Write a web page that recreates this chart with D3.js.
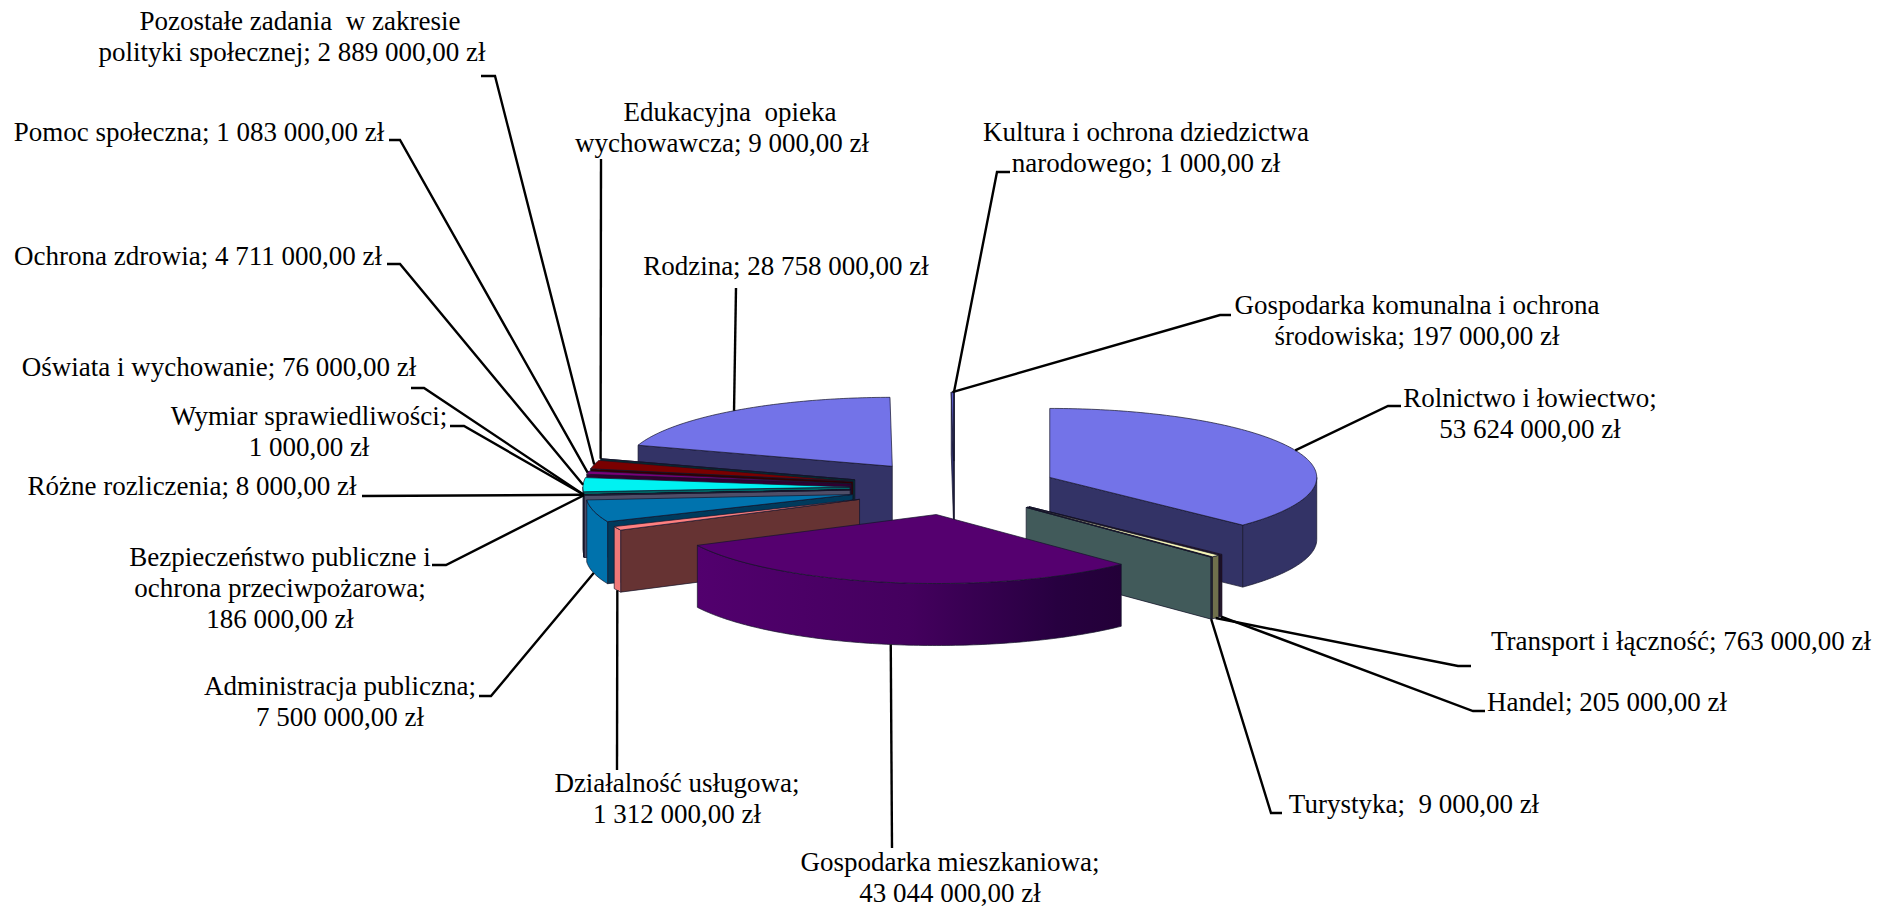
<!DOCTYPE html>
<html>
<head>
<meta charset="utf-8">
<style>html,body{margin:0;background:#fff}svg{display:block}</style>
<script src="https://cdnjs.cloudflare.com/ajax/libs/d3/7.8.5/d3.min.js"></script>
</head>
<body>
<script>
// ---- data, in slice order clockwise from twelve o'clock ----
const categories = ["Rolnictwo i łowiectwo","Handel","Transport i łączność","Turystyka","Gospodarka mieszkaniowa","Działalność usługowa","Administracja publiczna","Bezpieczeństwo publiczne i ochrona przeciwpożarowa","Różne rozliczenia","Wymiar sprawiedliwości","Oświata i wychowanie","Ochrona zdrowia","Pomoc społeczna","Pozostałe zadania w zakresie polityki społecznej","Edukacyjna opieka wychowawcza","Rodzina","Gospodarka komunalna i ochrona środowiska","Kultura i ochrona dziedzictwa narodowego"];
const values = [53624000,205000,763000,9000,43044000,1312000,7500000,186000,8000,1000,76000,4711000,1083000,2889000,9000,28758000,197000,1000];
const labelLines = [
 ["Rolnictwo i łowiectwo;","53 624 000,00 zł"],
 ["Handel; 205 000,00 zł"],
 ["Transport i łączność; 763 000,00 zł"],
 ["Turystyka;  9 000,00 zł"],
 ["Gospodarka mieszkaniowa;","43 044 000,00 zł"],
 ["Działalność usługowa;","1 312 000,00 zł"],
 ["Administracja publiczna;","7 500 000,00 zł"],
 ["Bezpieczeństwo publiczne i","ochrona przeciwpożarowa;","186 000,00 zł"],
 ["Różne rozliczenia; 8 000,00 zł"],
 ["Wymiar sprawiedliwości;","1 000,00 zł"],
 ["Oświata i wychowanie; 76 000,00 zł"],
 ["Ochrona zdrowia; 4 711 000,00 zł"],
 ["Pomoc społeczna; 1 083 000,00 zł"],
 ["Pozostałe zadania  w zakresie","polityki społecznej; 2 889 000,00 zł"],
 ["Edukacyjna  opieka","wychowawcza; 9 000,00 zł"],
 ["Rodzina; 28 758 000,00 zł"],
 ["Gospodarka komunalna i ochrona","środowiska; 197 000,00 zł"],
 ["Kultura i ochrona dziedzictwa","narodowego; 1 000,00 zł"]
];
// ---- styles ----
const topColors  = ["#7373E8","#4D1A33","#F5F5B8","#CCFFFF","#55006F","#FF8080","#0073AE","#6A6A88","#1A1A60","#803080","#808040","#00F2F2","#7A007A","#7A0000","#006666","#7373E8","#5A5AC8","#6060C0"];
const wallColors = ["#333366","#260D1F","#70704C","#415A5A","#4A0066","#F07878","#0072AC","#3C3C52","#000040","#400040","#404020","#006666","#300030","#300000","#003333","#333366","#303070","#303070"];
const sideColors = ["#333366","#260D1F","#70704C","#415A5A","#4A0066","#663333","#003A5C","#4E4E68","#000040","#400040","#404020","#006666","#300030","#300000","#003333","#333366","#303070","#303070"];
// ---- layout ----
const W = 1885, H = 908;
const centre = [954, 488], radii = [267, 69], explode = 0.39, depth = 62;
const fontSize = 27, lineGap = 31;
// label centre x, first line centre y
const labelAt = [[1530,398],[1607,702],[1681,641],[1414,804],[950,862],[677,783],[340,686],[280,557],[192,486],[309,416],[219,367],[198,256],[199,132],[292,21],[722,112],[786,266],[1417,305],[1146,132]];
// first lines that sit off the block's centre
const firstLineShift = {13:8, 14:8};
// leader: free end, elbow (the third point comes from the slice itself)
const leaderEnd = [[[1401,406],[1388,406]],[[1485,711],[1473,711]],[[1471,666],[1458,666]],[[1282,813],[1271,813]],[[892,848]],[[617,770]],[[479,696],[491,696]],[[432,565],[446,565]],[[362,496]],[[450,426],[464,426]],[[411,388],[424,388]],[[387,264],[400,264]],[[389,140],[400,140]],[[481,76],[495,76]],[[601,159]],[[736,288]],[[1231,315],[1220,315]],[[1010,172],[997,172]]];

const x = d3.scaleLinear().domain([-1,1]).range([centre[0]-radii[0], centre[0]+radii[0]]);
const y = d3.scaleLinear().domain([-1,1]).range([centre[1]-radii[1], centre[1]+radii[1]]);
const pie = d3.pie().sort(null).value(d=>d);
const slices = pie(values).map((s,i)=>{
  const mid = (s.startAngle+s.endAngle)/2;
  return {i, a0:s.startAngle, a1:s.endAngle, mid, ox:explode*Math.sin(mid), oy:-explode*Math.cos(mid)};
});
const ptOf = (s,a,r=1,dz=0)=>[x(s.ox + r*Math.sin(a)), y(s.oy - r*Math.cos(a)) + dz];
const arcAngles = (a,b)=>{const n=Math.max(2,Math.ceil((b-a)*180/Math.PI)); return d3.range(n+1).map(k=>a+(b-a)*k/n);};
const line = d3.line();

const svg = d3.select("body").append("svg").attr("width",W).attr("height",H).attr("viewBox",`0 0 ${W} ${H}`);
const defs = svg.append("defs");
const grad = defs.append("linearGradient").attr("id","wallGrad");
[[0,"#52006E"],[0.5,"#44005E"],[0.85,"#270040"],[1,"#230038"]].forEach(([o,c])=>grad.append("stop").attr("offset",o).attr("stop-color",c));

const edge = "#14142a";
const order = slices.slice().sort((p,q)=>Math.abs(q.mid-Math.PI)-Math.abs(p.mid-Math.PI));
const g = svg.append("g");
order.forEach(s=>{
  const apex = ptOf(s,0,0);
  const gs = g.append("g").attr("class","slice");
  const wall = a=>{
    const p = ptOf(s,a);
    gs.append("path").attr("d",line([apex,p,[p[0],p[1]+depth],[apex[0],apex[1]+depth]])+"Z")
      .attr("fill",sideColors[s.i]).attr("stroke",edge).attr("stroke-width",0.7);
  };
  if (Math.sin(s.a0) < 0) wall(s.a0);
  if (Math.sin(s.a1) > 0) wall(s.a1);
  const v0 = Math.max(s.a0, Math.PI/2), v1 = Math.min(s.a1, 3*Math.PI/2);
  if (v1 > v0) {
    const as = arcAngles(v0,v1);
    const top = as.map(a=>ptOf(s,a));
    const bot = as.map(a=>ptOf(s,a,1,depth)).reverse();
    gs.append("path").attr("d",line(top.concat(bot))+"Z")
      .attr("fill", s.i===4 ? "url(#wallGrad)" : wallColors[s.i])
      .attr("stroke",edge).attr("stroke-width",0.7);
  }
  const face = [apex].concat(arcAngles(s.a0,s.a1).map(a=>ptOf(s,a)));
  gs.append("path").attr("d",line(face)+"Z").attr("fill",topColors[s.i]).attr("stroke",edge).attr("stroke-width",0.7);
});

// leaders
const leaders = svg.append("g").attr("fill","none").attr("stroke","#000").attr("stroke-width",2.4);
slices.forEach(s=>{
  const deg = s.mid*180/Math.PI;
  const anchor = ptOf(s,s.mid,1,(deg>90 && deg<262)?depth:0);
  leaders.append("path").attr("d",line(leaderEnd[s.i].concat([anchor])));
});

// labels
const labels = svg.append("g").attr("font-family","'Liberation Serif','Times New Roman',serif")
  .attr("font-size",fontSize).attr("fill","#000").attr("text-anchor","middle");
labelLines.forEach((ls,i)=>{
  ls.forEach((t,j)=>{
    labels.append("text").attr("x",labelAt[i][0]+(j===0?(firstLineShift[i]||0):0)).attr("y",labelAt[i][1]+j*lineGap+9)
      .style("white-space","pre").text(t);
  });
});
</script>
</body>
</html>
